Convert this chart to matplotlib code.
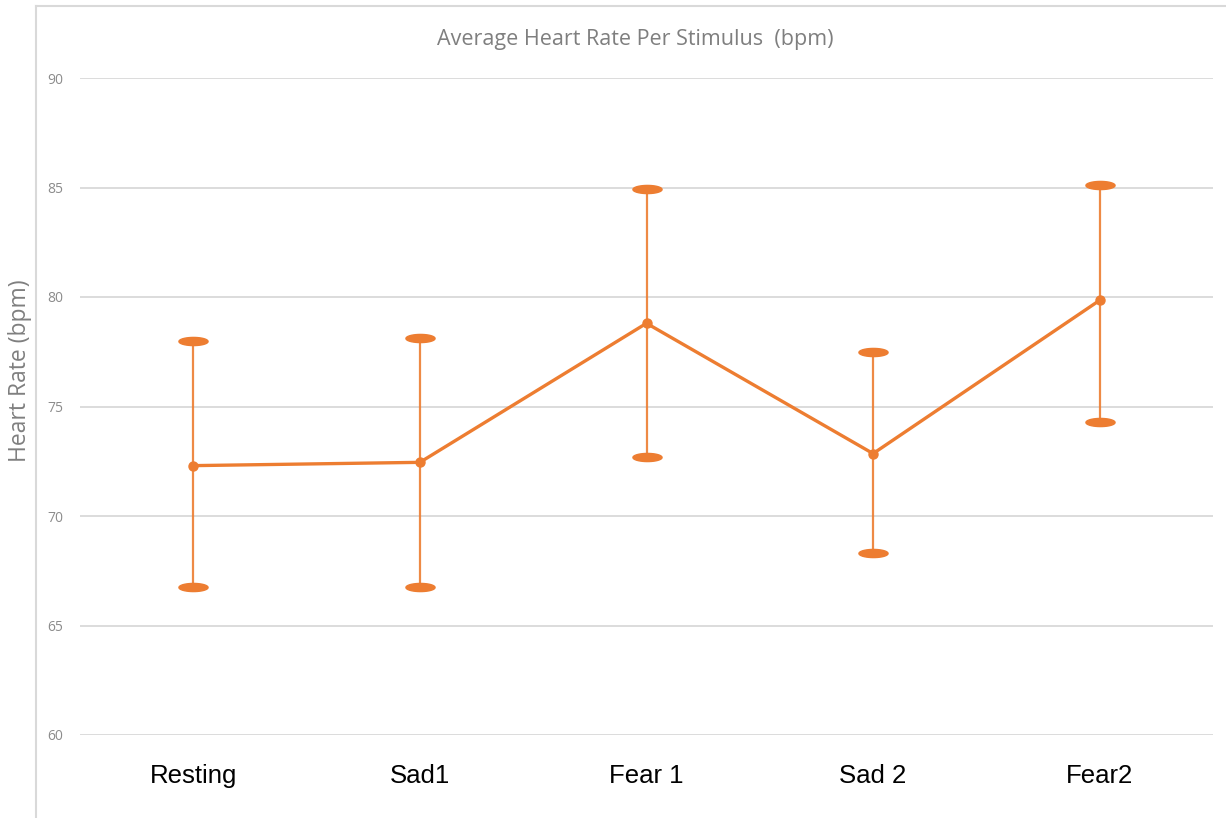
import numpy as np
import matplotlib
matplotlib.use('Agg')
from matplotlib import pyplot as plt
from matplotlib.path import Path
from matplotlib.lines import Line2D

stimuli = ['Resting', 'Sad1', 'Fear 1', 'Sad 2', 'Fear2']
mean_hr = [72.3, 72.45, 78.8, 72.85, 79.85]
upper_hr = [78.0, 78.15, 84.95, 77.5, 85.1]
lower_hr = [66.75, 66.75, 72.7, 68.3, 74.3]

orange = '#ED7D31'
grid_col = '#D9D9D9'
tick_col = '#8C8C8C'

# flattened ellipse used for the whisker ends
t = np.linspace(0, 2 * np.pi, 40)
ell = Path(np.column_stack([np.cos(t), 0.28 * np.sin(t)]), closed=True)

fig = plt.figure(figsize=(12.26, 8.18), dpi=100)
ax = fig.add_axes([80 / 1226, 83 / 818, 1133 / 1226, 657 / 818])

x = np.arange(len(stimuli))
ax.vlines(x, lower_hr, upper_hr, color=orange, lw=1.6, alpha=0.9, zorder=3)
ax.plot(x, upper_hr, ls='none', marker=ell, ms=21, color=orange, zorder=4)
ax.plot(x, lower_hr, ls='none', marker=ell, ms=21, color=orange, zorder=4)
ax.plot(x, mean_hr, color=orange, lw=2.4, marker='o', ms=6.5, zorder=5)

ax.set_xlim(-0.5, len(stimuli) - 0.5)
ax.set_ylim(60, 90)
ax.set_yticks(np.arange(60, 91, 5))
ax.yaxis.grid(True, color=grid_col, lw=1.3)
ax.set_axisbelow(True)
for s in ax.spines.values():
    s.set_visible(False)
ax.tick_params(axis='y', length=0, pad=12, labelsize=10, labelcolor=tick_col)
ax.tick_params(axis='x', length=0, pad=21, labelsize=18.5)
ax.set_xticks(x)
ax.set_xticklabels(stimuli, fontfamily='Liberation Sans')
for lab in ax.get_yticklabels():
    lab.set_fontfamily('Open Sans')

fig.text(635 / 1226, 1 - 40 / 818, 'Average Heart Rate Per Stimulus  (bpm)', ha='center', va='center',
         fontfamily='Open Sans', fontsize=15.5, color='#7F7F7F')
fig.text(20 / 1226, 1 - 371 / 818, 'Heart Rate (bpm)', rotation=90, ha='center', va='center',
         fontfamily='Open Sans', fontsize=16.5, color='#7F7F7F')

# chart frame (top and left edges visible)
fig.add_artist(Line2D([36 / 1226, 1], [1 - 6 / 818] * 2, color='#D9D9D9', lw=1.5))
fig.add_artist(Line2D([36 / 1226] * 2, [0, 1 - 6 / 818], color='#D9D9D9', lw=1.5))

fig.savefig('out.png', dpi=100)
